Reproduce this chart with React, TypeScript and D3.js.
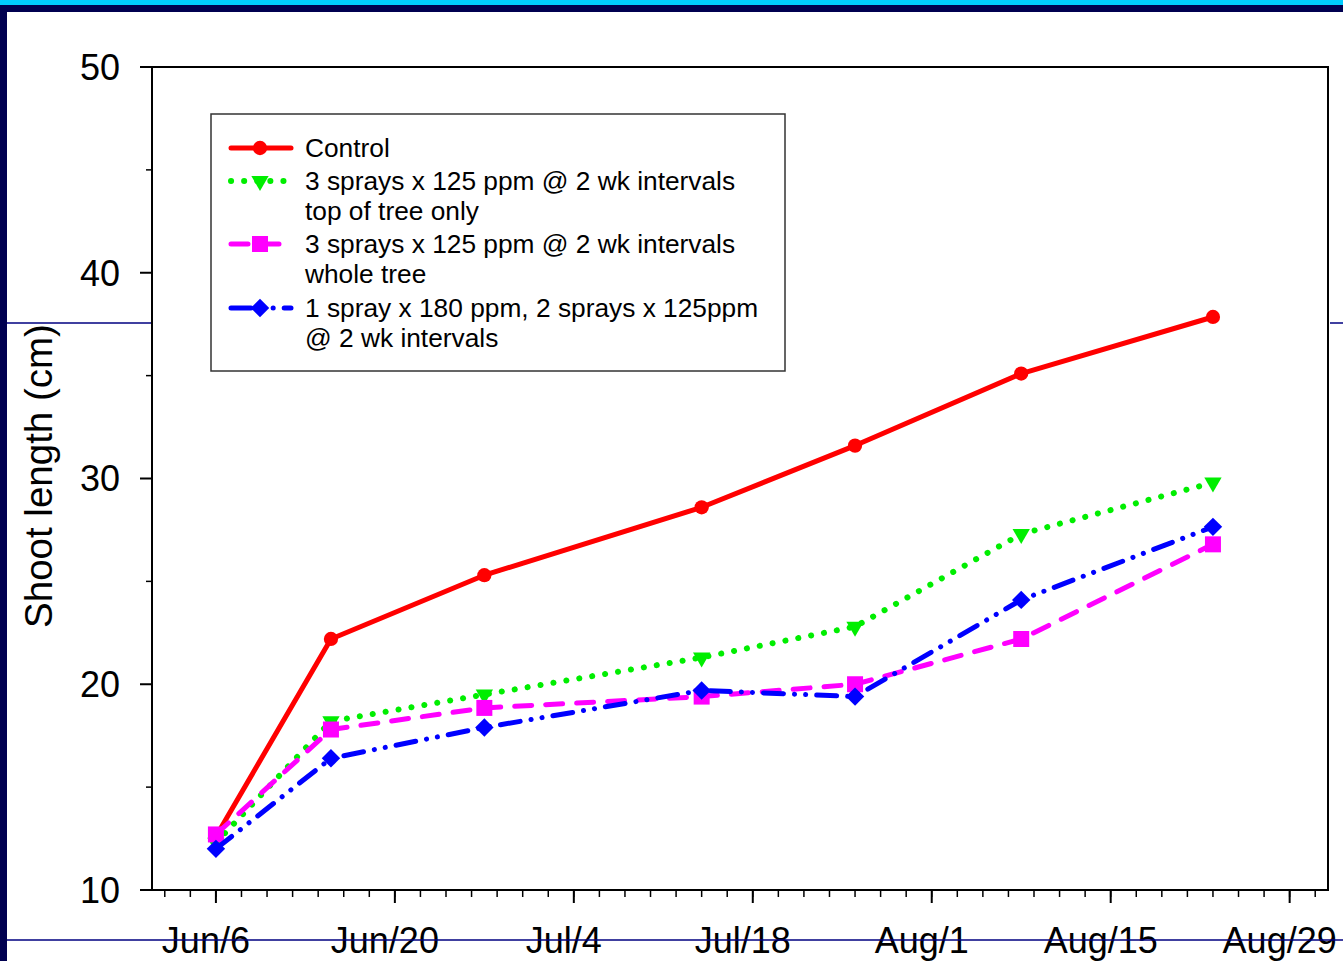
import { useEffect } from "react";
import * as d3 from "d3";

// sampling dates and shoot lengths (cm)
const DATES = ["2000-06-06", "2000-06-15", "2000-06-27", "2000-07-14", "2000-07-26", "2000-08-08", "2000-08-23"];
const CONTROL = [12.6, 22.2, 25.3, 28.6, 31.6, 35.1, 37.85];
const TOP_ONLY = [12.3, 18.2, 19.5, 21.3, 22.8, 27.3, 29.8];
const WHOLE_TREE = [12.7, 17.8, 18.85, 19.4, 20.0, 22.2, 26.8];
const MIXED = [12.0, 16.4, 17.9, 19.7, 19.4, 24.1, 27.65];

const LABELS = [
  ["Control"],
  ["3 sprays x 125 ppm @ 2 wk intervals", "top of tree only"],
  ["3 sprays x 125 ppm @ 2 wk intervals", "whole tree"],
  ["1 spray x 180 ppm, 2 sprays x 125ppm", "@ 2 wk intervals"],
];
const Y_TICKS = [10, 20, 30, 40, 50];
const Y_MINOR = [15, 25, 35, 45];

const W = 1343;
const H = 961;
const FONT = "'Liberation Sans', Arial, sans-serif";
const NAVY = "#000050";

const parse = d3.utcParse("%Y-%m-%d");

type Style = { color: string; dash: string; width: number; symbol: d3.SymbolType; size: number; rotate: number };

const STYLES: Style[] = [
  { color: "#ff0000", dash: "none", width: 5, symbol: d3.symbolCircle, size: 160, rotate: 0 },
  { color: "#00ee00", dash: "0.1 13", width: 6, symbol: d3.symbolTriangle, size: 130, rotate: 180 },
  { color: "#ff00ff", dash: "17 14", width: 5, symbol: d3.symbolSquare, size: 256, rotate: 0 },
  { color: "#0000ff", dash: "20 11 0.1 11 0.1 11", width: 5, symbol: d3.symbolSquare, size: 170, rotate: 45 },
];

export default function App() {
  useEffect(() => {
    document.body.style.margin = "0";
  }, []);

  const dates = DATES.map((d) => parse(d) as Date);
  const series = [CONTROL, TOP_ONLY, WHOLE_TREE, MIXED];

  const x = d3
    .scaleUtc()
    .domain([parse("2000-06-01") as Date, parse("2000-09-01") as Date])
    .range([152, 1328]);
  const y = d3.scaleLinear().domain([10, 50]).range([890, 67]);

  const minorX = d3.utcDay.range(parse("2000-06-02") as Date, parse("2000-09-01") as Date, 2);
  const majorX = d3.utcDay.range(parse("2000-06-06") as Date, parse("2000-09-01") as Date, 14);
  const fmt = d3.utcFormat("%b/%-d");

  const line = d3
    .line<number>()
    .x((_, i) => x(dates[i]))
    .y((v) => y(v));

  const [x0, x1] = x.range();
  const [yb, yt] = y.range();

  // legend layout
  const lgX = 211;
  const lgY = 114;
  const rowY = [148, 181, 244, 308];
  const lineGap = 30;

  return (
    <svg width={W} height={H} style={{ display: "block", background: "#fff" }} fontFamily={FONT}>
      <rect x={0} y={0} width={W} height={H} fill="#fff" />
      {/* slide decorations */}
      <line x1={7} x2={x0} y1={323} y2={323} stroke="#000080" strokeWidth={1.5} />
      <line x1={x1 + 2} x2={W} y1={323} y2={323} stroke="#000080" strokeWidth={1.5} />

      {/* plot frame */}
      <rect x={x0} y={yt} width={x1 - x0} height={yb - yt} fill="none" stroke="#000" strokeWidth={2} />

      {/* y axis */}
      {Y_TICKS.map((t) => (
        <g key={t}>
          <line x1={140} x2={x0} y1={y(t)} y2={y(t)} stroke="#000" strokeWidth={2} />
          <text x={120} y={y(t)} dy="0.36em" textAnchor="end" fontSize={36} fill="#000">
            {t}
          </text>
        </g>
      ))}
      {Y_MINOR.map((t) => (
        <line key={t} x1={146} x2={x0} y1={y(t)} y2={y(t)} stroke="#000" strokeWidth={1.5} />
      ))}
      <text
        transform={`translate(38,476) rotate(-90)`}
        textAnchor="middle"
        dominantBaseline="central"
        fontSize={38.5}
        fill="#000"
      >
        Shoot length (cm)
      </text>

      {/* x axis */}
      {minorX.map((d, i) => (
        <line key={i} x1={x(d)} x2={x(d)} y1={yb} y2={yb + 7} stroke="#000" strokeWidth={1.5} />
      ))}
      {majorX.map((d, i) => (
        <g key={i}>
          <line x1={x(d)} x2={x(d)} y1={yb} y2={yb + 13} stroke="#000" strokeWidth={2} />
          <text x={x(d) - 10} y={953} textAnchor="middle" fontSize={36} fill="#000">
            {fmt(d)}
          </text>
        </g>
      ))}

      {/* series */}
      {series.map((vals, si) => {
        const s = STYLES[si];
        return (
          <g key={si}>
            <path
              d={line(vals) ?? ""}
              fill="none"
              stroke={s.color}
              strokeWidth={s.width}
              strokeDasharray={s.dash}
              strokeLinecap={si === 0 ? "butt" : "round"}
              strokeLinejoin="round"
            />
            {vals.map((v, i) => (
              <path
                key={i}
                d={d3.symbol(s.symbol, s.size)() ?? ""}
                transform={`translate(${x(dates[i])},${y(v)}) rotate(${s.rotate})`}
                fill={s.color}
              />
            ))}
          </g>
        );
      })}

      {/* legend */}
      <rect x={lgX} y={lgY} width={574} height={257} fill="#fff" stroke="#333" strokeWidth={1.5} />
      {LABELS.map((lines, li) => {
        const s = STYLES[li];
        const ly = rowY[li];
        return (
          <g key={li}>
            <line
              x1={231}
              x2={291}
              y1={ly}
              y2={ly}
              stroke={s.color}
              strokeWidth={s.width}
              strokeDasharray={s.dash}
              strokeLinecap="round"
            />
            <path
              d={d3.symbol(s.symbol, s.size)() ?? ""}
              transform={`translate(260,${ly}) rotate(${s.rotate})`}
              fill={s.color}
            />
            {lines.map((t, ti) => (
              <text key={ti} x={305} y={ly + ti * lineGap} dy="0.36em" fontSize={26.3} fill="#000">
                {t}
              </text>
            ))}
          </g>
        );
      })}

      <line x1={0} x2={W} y1={940} y2={940} stroke="#000080" strokeWidth={1.5} />
      <rect x={0} y={0} width={7} height={H} fill={NAVY} />
      <rect x={0} y={0} width={W} height={12} fill={NAVY} />
      <rect x={0} y={0} width={W} height={5} fill="#00ccff" />
    </svg>
  );
}
